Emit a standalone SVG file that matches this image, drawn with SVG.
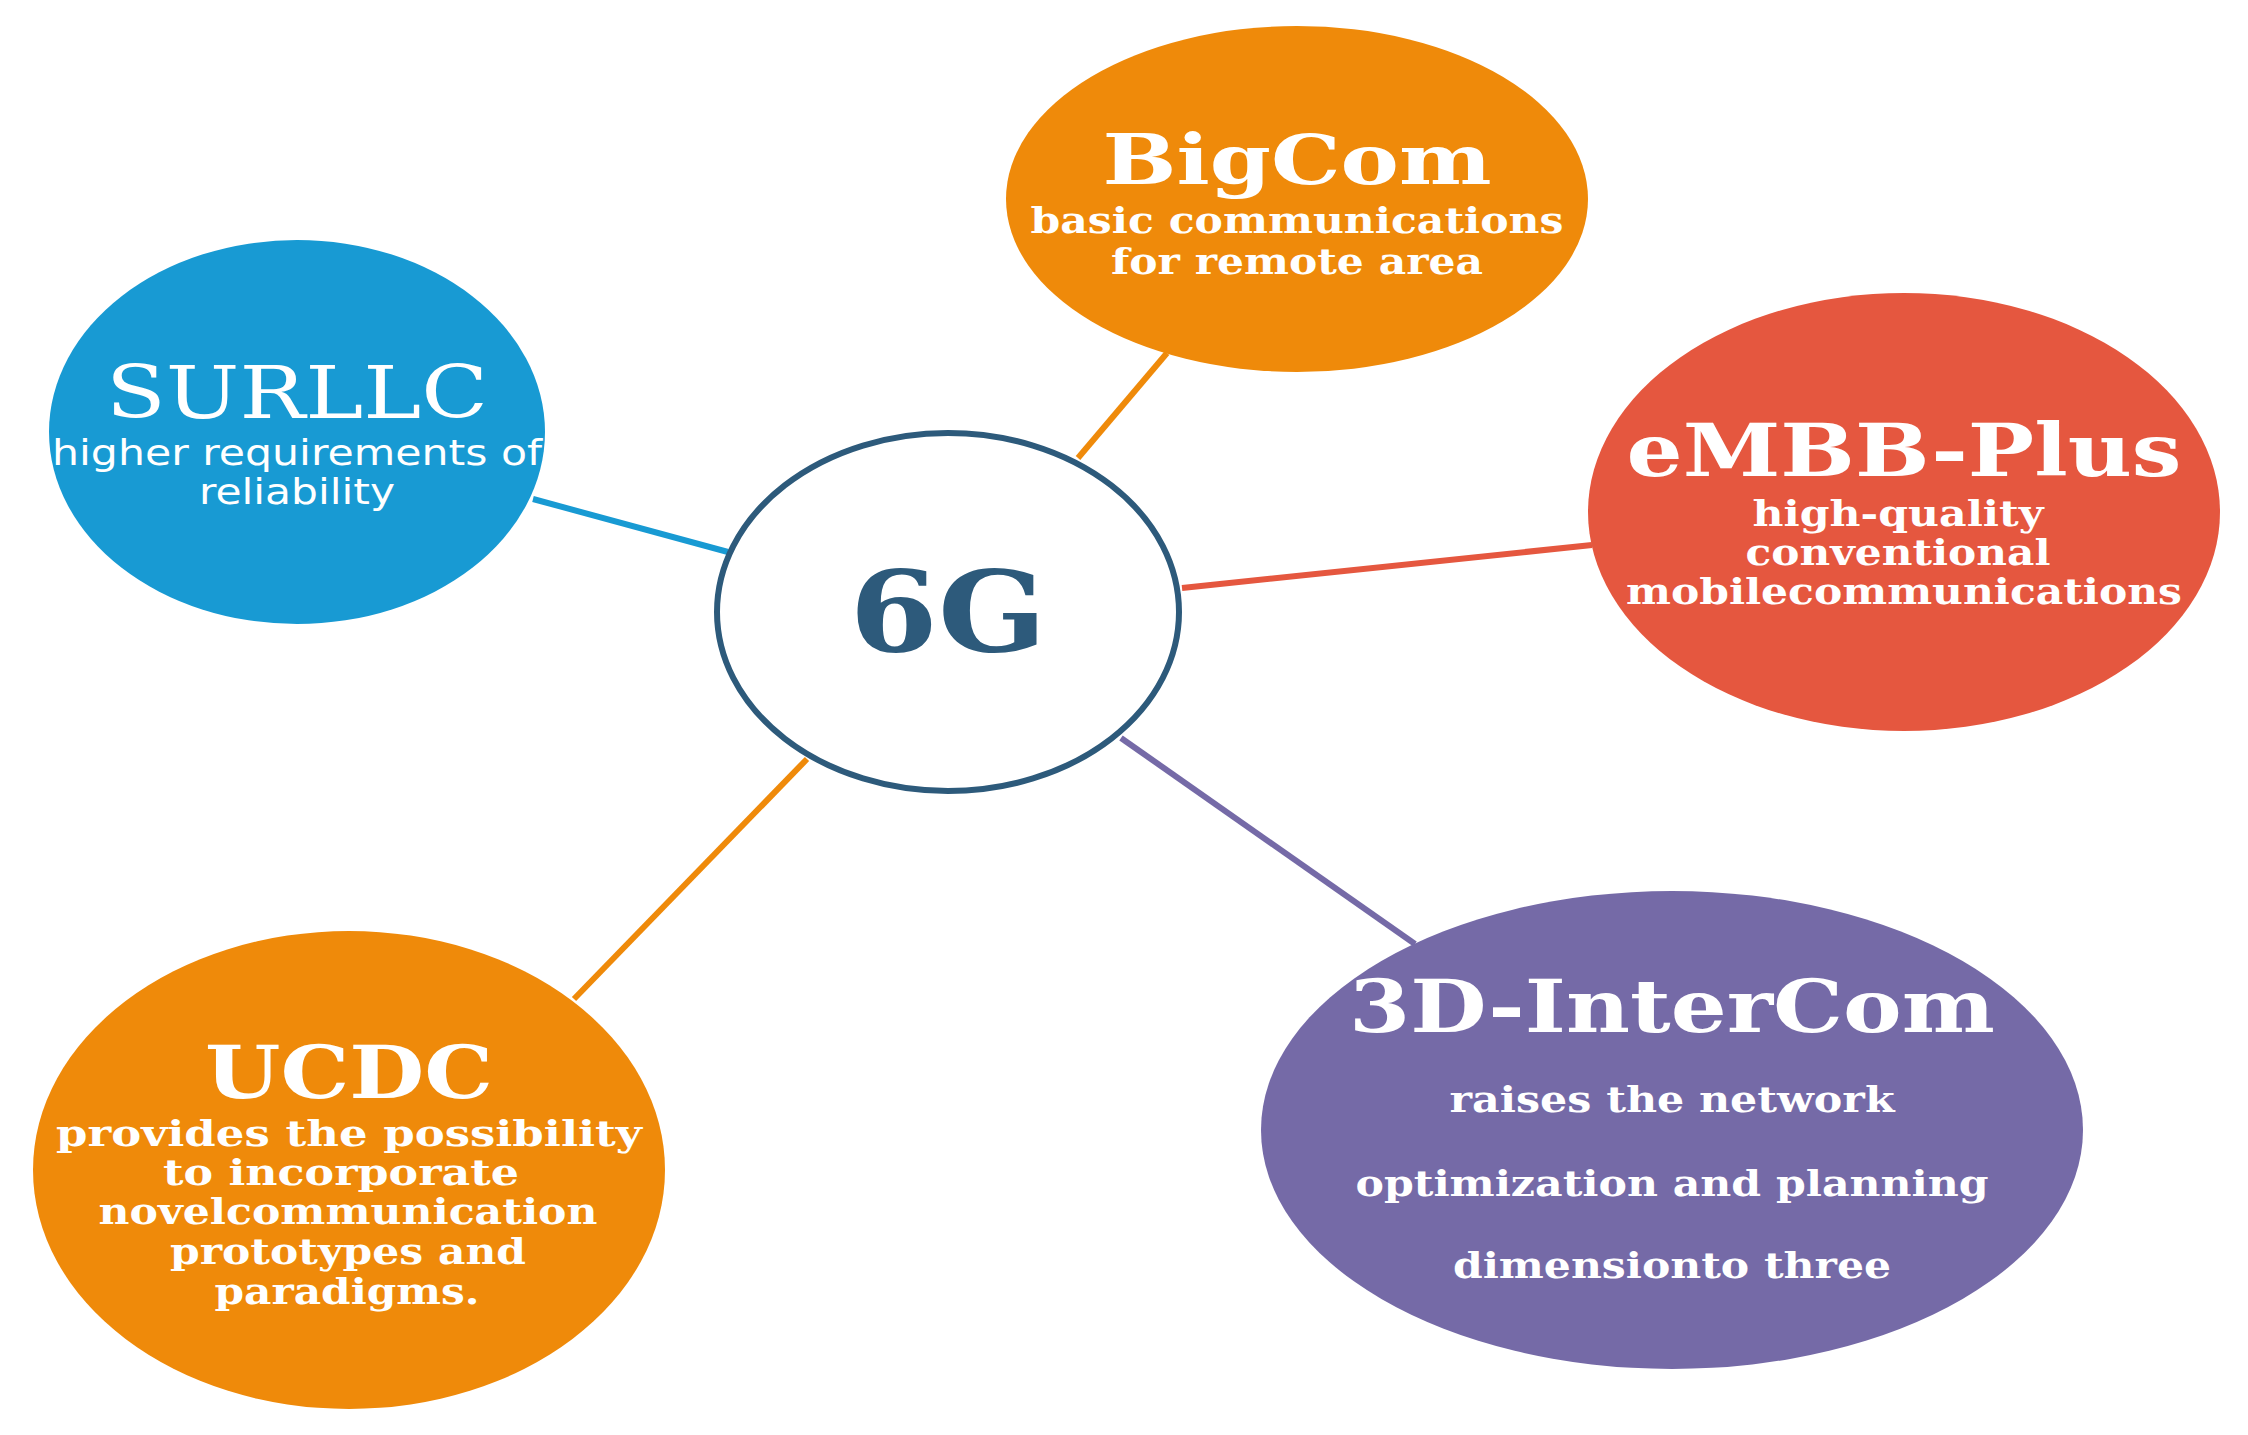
<svg xmlns="http://www.w3.org/2000/svg" width="2248" height="1435" viewBox="0 0 2248 1435">
<style>
.t{font-family:"DejaVu Serif",serif;font-weight:bold;fill:#fff;text-anchor:middle}
.s{font-family:"DejaVu Serif",serif;font-weight:bold;fill:#fff;text-anchor:middle;font-size:35px}
.c{stroke-width:6;fill:none}
</style>
<rect width="2248" height="1435" fill="#fff"/>
<g id="connectors" class="c">
<line x1="1078" y1="458" x2="1167" y2="353" stroke="#ef8a0a"/>
<line x1="533" y1="499" x2="728" y2="552" stroke="#189ad3"/>
<line x1="1182" y1="588" x2="1592" y2="545" stroke="#e5573f"/>
<line x1="574" y1="999" x2="807" y2="759" stroke="#ef8a0a"/>
<line x1="1121" y1="738" x2="1415" y2="944" stroke="#756aa7"/>
</g>
<g id="center">
<ellipse cx="948" cy="612" rx="231" ry="179" fill="#fff" stroke="#2d5a7b" stroke-width="6"/>
<text x="948" y="651" class="t" style="fill:#2d5a7b;font-size:112px" textLength="197" lengthAdjust="spacingAndGlyphs">6G</text>
</g>
<g id="bigcom">
<ellipse cx="1297" cy="199" rx="291" ry="173" fill="#ef8a0a"/>
<text x="1297" y="184" class="t" font-size="69" textLength="389" lengthAdjust="spacingAndGlyphs">BigCom</text>
<text x="1297" y="233" class="s" textLength="533" lengthAdjust="spacingAndGlyphs">basic communications</text>
<text x="1297" y="274" class="s" textLength="372" lengthAdjust="spacingAndGlyphs">for remote area</text>
</g>
<g id="surllc">
<ellipse cx="297" cy="432" rx="248" ry="192" fill="#189ad3"/>
<text x="297" y="418" class="t" style="font-weight:normal" font-size="72" textLength="382" lengthAdjust="spacingAndGlyphs">SURLLC</text>
<text x="297" y="465" class="s" style="font-family:'DejaVu Sans',sans-serif;font-weight:normal" textLength="490" lengthAdjust="spacingAndGlyphs">higher requirements of</text>
<text x="297" y="504" class="s" style="font-family:'DejaVu Sans',sans-serif;font-weight:normal" textLength="196" lengthAdjust="spacingAndGlyphs">reliability</text>
</g>
<g id="embb">
<ellipse cx="1904" cy="512" rx="316" ry="219" fill="#e5573f"/>
<text x="1904" y="476" class="t" font-size="72" textLength="555" lengthAdjust="spacingAndGlyphs">eMBB-Plus</text>
<text x="1898" y="526" class="s" textLength="291" lengthAdjust="spacingAndGlyphs">high-quality</text>
<text x="1898" y="565" class="s" textLength="305" lengthAdjust="spacingAndGlyphs">conventional</text>
<text x="1904" y="604" class="s" textLength="556" lengthAdjust="spacingAndGlyphs">mobilecommunications</text>
</g>
<g id="ucdc">
<ellipse cx="349" cy="1170" rx="316" ry="239" fill="#ef8a0a"/>
<text x="349" y="1098" class="t" font-size="72" textLength="288" lengthAdjust="spacingAndGlyphs">UCDC</text>
<text x="349" y="1146" class="s" textLength="586" lengthAdjust="spacingAndGlyphs">provides the possibility</text>
<text x="341" y="1185" class="s" textLength="356" lengthAdjust="spacingAndGlyphs">to incorporate</text>
<text x="348" y="1224" class="s" textLength="499" lengthAdjust="spacingAndGlyphs">novelcommunication</text>
<text x="348" y="1264" class="s" textLength="356" lengthAdjust="spacingAndGlyphs">prototypes and</text>
<text x="347" y="1304" class="s" textLength="265" lengthAdjust="spacingAndGlyphs">paradigms.</text>
</g>
<g id="intercom">
<ellipse cx="1672" cy="1130" rx="411" ry="239" fill="#756aa7"/>
<text x="1672" y="1032" class="t" font-size="72" textLength="646" lengthAdjust="spacingAndGlyphs">3D-InterCom</text>
<text x="1672" y="1112" class="s" textLength="445" lengthAdjust="spacingAndGlyphs">raises the network</text>
<text x="1672" y="1196" class="s" textLength="633" lengthAdjust="spacingAndGlyphs">optimization and planning</text>
<text x="1672" y="1278" class="s" textLength="438" lengthAdjust="spacingAndGlyphs">dimensionto three</text>
</g>
</svg>
